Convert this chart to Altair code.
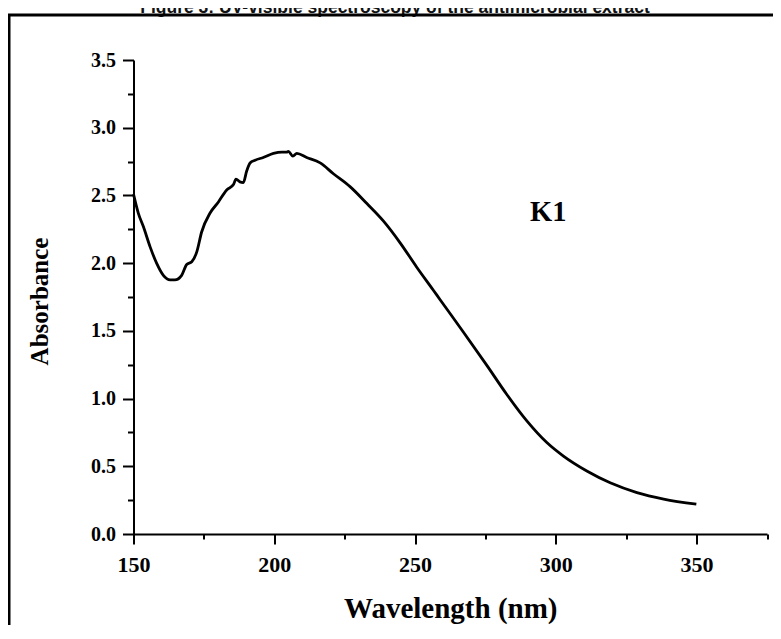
import altair as alt
import pandas as pd

# Spectrum
wavelength = [150.0, 151.7, 153.5, 155.9, 158.2, 160.6, 163.0, 164.7, 167.1, 168.9,
              170.7, 172.5, 174.2, 177.2, 180.1, 183.1, 185.5, 186.4, 187.8, 189.0,
              190.2, 191.4, 193.2, 196.1, 199.7, 202.7, 204.4, 205.0, 206.6, 208.0,
              211.5, 216.3, 221.0, 226.9, 232.9, 238.8, 244.7, 250.6, 256.5, 258.9,
              267.2, 275.5, 282.6, 289.7, 296.8, 302.7, 311.0, 319.3, 328.8, 338.3, 349.9]
absorbance = [2.51, 2.37, 2.27, 2.12, 2.00, 1.91, 1.876, 1.876, 1.91, 1.99,
              2.01, 2.085, 2.23, 2.37, 2.45, 2.54, 2.58, 2.62, 2.60, 2.595,
              2.68, 2.74, 2.76, 2.78, 2.81, 2.82, 2.82, 2.825, 2.79, 2.81,
              2.78, 2.74, 2.66, 2.565, 2.44, 2.31, 2.15, 1.97, 1.80, 1.73,
              1.49, 1.245, 1.03, 0.835, 0.675, 0.575, 0.465, 0.378, 0.306, 0.258, 0.22]

x_major = [150, 200, 250, 300, 350]
x_minor = [175, 225, 275, 325, 375]
y_major = [0.0, 0.5, 1.0, 1.5, 2.0, 2.5, 3.0, 3.5]
y_minor = [0.25, 0.75, 1.25, 1.75, 2.25, 2.75, 3.25]

series_label = "K1"
label_x, label_y = [297.3], [2.38]
fig_title = "Figure 3: UV-visible spectroscopy of the antimicrobial extract"

X_DOMAIN = [150, 375]
Y_DOMAIN = [0, 3.5]
SERIF = "Liberation Serif"

df = pd.DataFrame({"wl": wavelength, "abs": absorbance})
xs = alt.Scale(domain=X_DOMAIN, nice=False, zero=False)
ys = alt.Scale(domain=Y_DOMAIN, nice=False, zero=False)

main_x_axis = alt.Axis(
    values=x_major, format="d", grid=False, orient="bottom", labelFlush=False,
    domainColor="black", domainWidth=2, tickColor="black", tickWidth=2, tickSize=10,
    labelFont=SERIF, labelFontWeight="bold", labelFontSize=22, labelColor="black",
    labelBaseline="alphabetic", labelPadding=27,
    title="Wavelength (nm)", titleFont=SERIF, titleFontWeight="bold", titleFontSize=29,
    titleColor="black", titleBaseline="alphabetic", titleY=83,
)
main_y_axis = alt.Axis(
    values=y_major, format=".1f", grid=False, orient="left", labelFlush=False,
    domainColor="black", domainWidth=2, tickColor="black", tickWidth=2, tickSize=11,
    labelFont=SERIF, labelFontWeight="bold", labelFontSize=20, labelColor="black",
    labelPadding=7,
    title="Absorbance", titleFont=SERIF, titleFontWeight="bold", titleFontSize=25,
    titleColor="black", titleAngle=270, titleBaseline="alphabetic", titleAlign="center",
    titleX=-86, titleY=241,
)

line = alt.Chart(df).mark_line(color="black", strokeWidth=2.8, strokeJoin="round",
                               interpolate="monotone").encode(
    x=alt.X("wl:Q", scale=xs, axis=main_x_axis),
    y=alt.Y("abs:Q", scale=ys, axis=main_y_axis),
)

xminor = alt.Chart(pd.DataFrame({"m": x_minor})).mark_point(opacity=0).encode(
    x=alt.X("m:Q", scale=xs, axis=alt.Axis(values=x_minor, orient="bottom", labels=False,
                                            domain=False, grid=False, tickColor="black",
                                            tickWidth=2, tickSize=5, title=None)),
    y=alt.value(0),
)
yminor = alt.Chart(pd.DataFrame({"m": y_minor})).mark_point(opacity=0).encode(
    y=alt.Y("m:Q", scale=ys, axis=alt.Axis(values=y_minor, orient="left", labels=False,
                                            domain=False, grid=False, tickColor="black",
                                            tickWidth=2, tickSize=6, title=None)),
    x=alt.value(0),
)

k1 = alt.Chart(pd.DataFrame({"x": label_x, "y": label_y, "t": [series_label]})).mark_text(
    font=SERIF, fontWeight="bold", fontSize=28.5, color="black", align="center", baseline="middle"
).encode(
    x=alt.X("x:Q", scale=xs, axis=None),
    y=alt.Y("y:Q", scale=ys, axis=None),
    text="t:N",
)

one = pd.DataFrame({"t": [fig_title]})
title_txt = alt.Chart(one).mark_text(
    font="Liberation Sans", fontWeight="bold", fontSize=17.5, color="#111111",
    align="center", baseline="alphabetic"
).encode(x=alt.value(261.5), y=alt.value(-47), text="t:N")

frame = alt.Chart(one).mark_rect(fillOpacity=0, stroke="black", strokeWidth=3).encode(
    x=alt.value(-124.5), x2=alt.value(800), y=alt.value(-45), y2=alt.value(700)
)

chart = alt.layer(line, xminor, yminor, k1, title_txt, frame).resolve_axis(
    x="independent", y="independent"
).properties(
    width=633.5, height=474,
    autosize=alt.AutoSizeParams(type="none"),
    padding={"left": 125.5, "top": 52, "right": 6, "bottom": 91},
    background="white",
).configure_view(stroke=None)

chart.save("out.html", embed_options={"renderer": "svg", "actions": False})
